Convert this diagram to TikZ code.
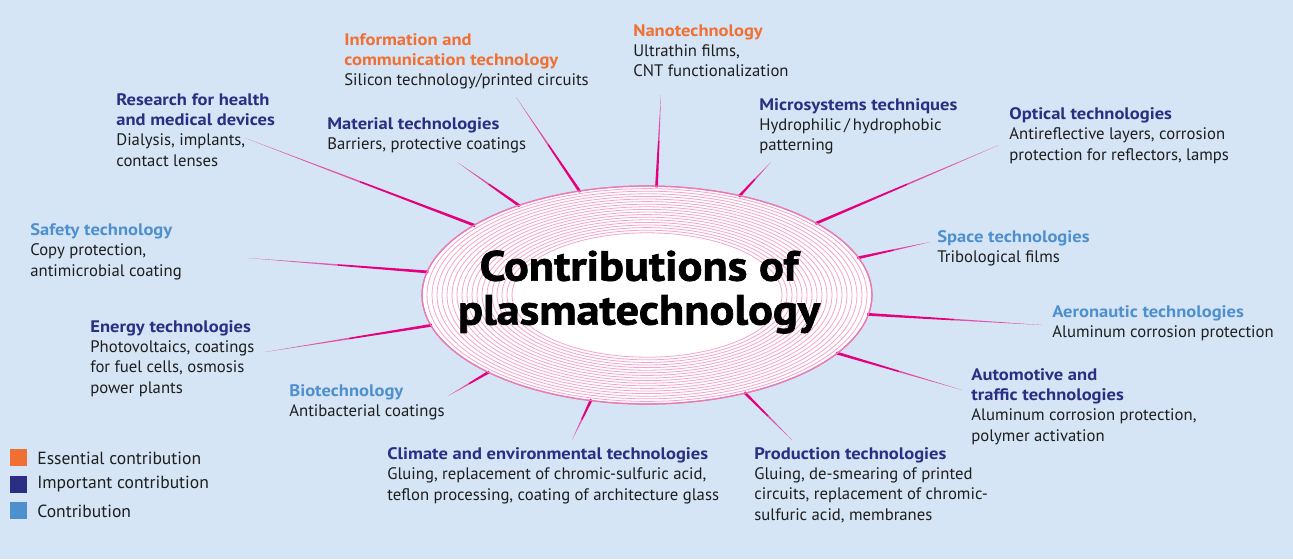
\documentclass[tikz,border=0pt]{standalone}
\usepackage{fontspec}
\setmainfont{PT Sans}
\newfontfamily\fieldheadfont[FakeStretch=1.11]{PT Sans Bold}
\newfontfamily\hubfont[FakeStretch=1.1,FakeBold=1.6]{PT Sans Bold}
\usetikzlibrary{shapes.geometric,calc}
\definecolor{bgblue}{HTML}{D5E5F5}
\definecolor{essorange}{HTML}{F07033}
\definecolor{impblue}{HTML}{2B2E83}
\definecolor{conblue}{HTML}{4E90CE}
\definecolor{bodyblack}{HTML}{1E1E1E}
\definecolor{spokered}{HTML}{E5007D}
\definecolor{ringpink}{HTML}{F5A3C9}
\definecolor{rimpink}{HTML}{E97AB4}
\newcommand{\esstitle}[1]{\textcolor{essorange}{\fieldheadfont #1}}
\newcommand{\imptitle}[1]{\textcolor{impblue}{\fieldheadfont #1}}
\newcommand{\contitle}[1]{\textcolor{conblue}{\fieldheadfont #1}}
\begin{document}
\begin{tikzpicture}[
    field/.style={anchor=north west,inner sep=0pt,align=left,text=bodyblack,
      font=\fontsize{9.5}{11.6}\selectfont},
    spoke/.style={fill=spokered},
    spoketip/.style={left color=spokered,right color=bgblue!70!spokered},
    hub/.style={ellipse,draw=rimpink,line width=.7pt,fill=white,
      minimum width=9cm,minimum height=4.36cm,inner sep=0pt},
    ring/.style={ringpink,line width=.45pt},
    headline/.style={align=center,inner sep=0pt,text=black,
      font=\fontsize{24}{25}\selectfont\hubfont},
    keybox/.style={minimum size=.34cm,inner sep=0pt},
    keytext/.style={anchor=west,inner sep=0pt,text=bodyblack,
      font=\fontsize{10}{12}\selectfont}]
  \begin{scope}[x=.02cm,y=-.02cm]
  \fill[bgblue] (0,0) rectangle (1293,559);
  % the hub
  \node[hub] (core) at (647,295) {};
  % free ends of the spokes
  \coordinate (infoend) at (516,97);
  \coordinate (nanoend) at (661,95);
  \coordinate (healthend) at (245,138);
  \coordinate (materialend) at (457,162);
  \coordinate (microend) at (771,162);
  \coordinate (opticalend) at (999,145);
  \coordinate (safetyend) at (248,258);
  \coordinate (spaceend) at (930,242);
  \coordinate (aeroend) at (1042,325);
  \coordinate (energyend) at (265,352);
  \coordinate (bioend) at (448,396);
  \coordinate (autoend) at (962,390);
  \coordinate (climateend) at (572,440);
  \coordinate (productionend) at (792,440);
  \foreach \e in {infoend,nanoend,healthend,materialend,microend,opticalend,
      safetyend,spaceend,aeroend,energyend,bioend,autoend,climateend,productionend}{
    \pgfmathanglebetweenpoints{\pgfpointanchor{core}{center}}{\pgfpointanchor{\e}{center}}
    \let\spokeangle\pgfmathresult
    \coordinate (b) at ($(core.\spokeangle)!-1pt!(\e)$);
    \coordinate (m) at ($(b)!.5!(\e)$);
    \fill[spoke] ($(b)!.8pt!90:(\e)$) -- ($(m)!.45pt!90:(\e)$)
      -- ($(m)!.45pt!-90:(\e)$) -- ($(b)!.8pt!-90:(\e)$) -- cycle;
    \shade[spoketip,shading angle=\spokeangle]
      ($(m)!.45pt!90:(\e)$) -- (\e) -- ($(m)!.45pt!-90:(\e)$) -- cycle;
  }
  \foreach \k in {1,...,18}
    \draw[ring] (core.center) ellipse ({225-5*\k} and {109-2.6*\k});
  \draw[rimpink,line width=.7pt] (core.center) ellipse (225 and 109);
  \node[headline] (title) at (639,292) {Contributions of\\plasmatechnology};
  % fields
  \node[field] (info) at (344,33) {\esstitle{Information and}\\\esstitle{communication technology}\\Silicon technology/printed circuits};
  \node[field] (nano) at (633,24) {\esstitle{Nanotechnology}\\Ultrathin films,\\CNT functionalization};
  \node[field] (health) at (116,93) {\imptitle{Research for health}\\\imptitle{and medical devices}\\Dialysis, implants,\\contact lenses};
  \node[field] (material) at (327,117) {\imptitle{Material technologies}\\Barriers, protective coatings};
  \node[field] (micro) at (759,98) {\imptitle{Microsystems techniques}\\Hydrophilic\,/\,hydrophobic\\patterning};
  \node[field] (optical) at (1009,107) {\imptitle{Optical technologies}\\Antireflective layers, corrosion\\protection for reflectors, lamps};
  \node[field] (safety) at (30,223) {\contitle{Safety technology}\\Copy protection,\\antimicrobial coating};
  \node[field] (space) at (937,230) {\contitle{Space technologies}\\Tribological films};
  \node[field] (aero) at (1052,305) {\contitle{Aeronautic technologies}\\Aluminum corrosion protection};
  \node[field] (energy) at (90,320) {\imptitle{Energy technologies}\\Photovoltaics, coatings\\for fuel cells, osmosis\\power plants};
  \node[field] (bio) at (289,384) {\contitle{Biotechnology}\\Antibacterial coatings};
  \node[field] (auto) at (971,368) {\imptitle{Automotive and}\\\imptitle{traffic technologies}\\Aluminum corrosion protection,\\polymer activation};
  \node[field] (climate) at (387,447) {\imptitle{Climate and environmental technologies}\\Gluing, replacement of chromic-sulfuric acid,\\teflon processing, coating of architecture glass};
  \node[field] (production) at (754,447) {\imptitle{Production technologies}\\Gluing, de-smearing of printed\\circuits, replacement of chromic-\\sulfuric acid, membranes};
  % legend
  \node[keybox,fill=essorange] (keyess) at (18.5,457.5) {};
  \node[keybox,fill=impblue] (keyimp) at (18.5,484) {};
  \node[keybox,fill=conblue] (keycon) at (18.5,510.5) {};
  \node[keytext] (keyesstext) at (37,458) {Essential contribution};
  \node[keytext] (keyimptext) at (37,484) {Important contribution};
  \node[keytext] (keycontext) at (37,511) {Contribution};
  \end{scope}
\end{tikzpicture}
\end{document}
